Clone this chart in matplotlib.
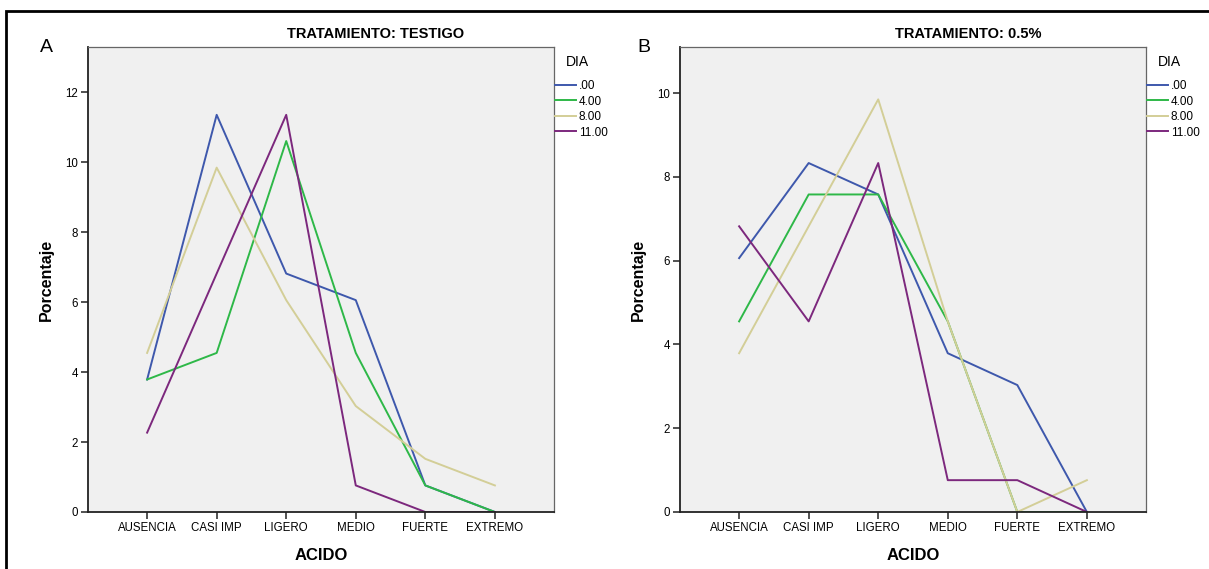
import matplotlib.pyplot as plt
from matplotlib.patches import Rectangle

plt.rcParams['font.family'] = ['Liberation Sans', 'DejaVu Sans']

categories = ["AUSENCIA", "CASI IMP", "LIGERO", "MEDIO", "FUERTE", "EXTREMO"]
dias = [".00", "4.00", "8.00", "11.00"]
colors = ["#3E58AC", "#2EB848", "#D3CE97", "#7C287D"]

# Porcentaje por DIA, tratamiento testigo
testigo_00 = [3.79, 11.36, 6.82, 6.06, 0.76, 0.0]
testigo_04 = [3.79, 4.55, 10.61, 4.55, 0.76, 0.0]
testigo_08 = [4.55, 9.85, 6.06, 3.03, 1.52, 0.76]
testigo_11 = [2.27, 6.82, 11.36, 0.76, 0.0, 0.0]

# Porcentaje por DIA, tratamiento 0.5%
t05_00 = [6.06, 8.33, 7.58, 3.79, 3.03, 0.0]
t05_04 = [4.55, 7.58, 7.58, 4.55, 0.0, 0.0]
t05_08 = [3.79, 6.82, 9.85, 4.55, 0.0, 0.76]
t05_11 = [6.82, 4.55, 8.33, 0.76, 0.76, 0.0]

panels = [
    ("A", "TRATAMIENTO: TESTIGO", [testigo_00, testigo_04, testigo_08, testigo_11],
     [0, 2, 4, 6, 8, 10, 12], 13.3),
    ("B", "TRATAMIENTO: 0.5%", [t05_00, t05_04, t05_08, t05_11],
     [0, 2, 4, 6, 8, 10], 11.1),
]

W, H = 1209, 569
fig = plt.figure(figsize=(W / 100, H / 100), dpi=100)

# outer frame
fig.patches.append(Rectangle((6 / W, -0.05), 1.2, (H - 11) / H + 0.05,
                             transform=fig.transFigure, fill=False,
                             edgecolor='black', linewidth=2))

lefts = [88, 680]
title_x = [376, 968]
letter_x = [40, 637]

for i, (letter, title, series, yticks, ymax) in enumerate(panels):
    ax = fig.add_axes([lefts[i] / W, (H - 512) / H, 466 / W, 465 / H])
    ax.set_facecolor('#F0F0F0')
    x = list(range(len(categories)))
    for vals, lab, c in zip(series, dias, colors):
        ax.plot(x, vals, color=c, linewidth=1.4, label=lab)
    ax.set_xlim(-0.85, 5.85)
    ax.set_ylim(0, ymax)
    ax.set_xticks(x)
    ax.set_xticklabels(categories, fontsize=8.3)
    ax.set_yticks(yticks)
    ax.set_yticklabels([str(t) for t in yticks], fontsize=8.3)
    ax.tick_params(direction='out', length=5, width=1.2, pad=2, color='#333333')
    for s in ['left', 'bottom']:
        ax.spines[s].set_color('#222222')
        ax.spines[s].set_linewidth(1.3)
    for s in ['top', 'right']:
        ax.spines[s].set_color('#666666')
        ax.spines[s].set_linewidth(0.9)
    ax.set_ylabel("Porcentaje", fontsize=11.5, fontweight='bold', labelpad=8)
    ax.set_xlabel("ACIDO", fontsize=12, fontweight='bold', labelpad=10)

    right = lefts[i] + 466
    ax.legend(loc='upper left', bbox_to_anchor=((right + 1) / W, 1 - 80 / H),
              bbox_transform=fig.transFigure, frameon=False,
              fontsize=8.5, handlelength=1.8, handletextpad=0.2,
              labelspacing=0.3, borderpad=0, borderaxespad=0)
    fig.text((right + 23) / W, 1 - 62 / H, "DIA", ha='center', va='center',
             fontsize=10)

    fig.text(title_x[i] / W, 1 - 34 / H, title, ha='center', va='center',
             fontsize=10.5, fontweight='bold')
    fig.text(letter_x[i] / W, 1 - 47 / H, letter, ha='left', va='center',
             fontsize=14)

fig.savefig("out.png", dpi=100, facecolor='white')
